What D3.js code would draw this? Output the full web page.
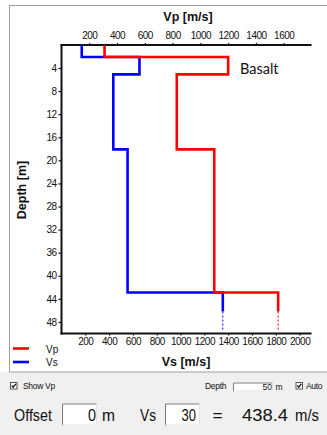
<!DOCTYPE html>
<html>
<head>
<meta charset="utf-8">
<script src="https://cdn.jsdelivr.net/npm/d3@7"></script>
<style>
  html, body { margin: 0; padding: 0; background: #f0f0f0; }
  svg { display: block; }
  text { font-family: "Liberation Sans", Arial, sans-serif; fill: #111; }
</style>
</head>
<body>
<svg id="chart" width="327" height="435"></svg>
<script>
// Layer model: top depth of each layer (m) and its velocities (m/s)
const layerTops = [0, 2.1, 5.1, 18.1, 42.9];
const vpValues  = [310, 1200, 830, 1100, 1560];
const vsValues  = [170, 655, 435, 555, 1355];
const solidEnd  = 46.2;   // depth where the half-space line turns dashed
const dashedEnd = 49.6;

const vpTicks    = [200, 400, 600, 800, 1000, 1200, 1400, 1600];
const vsTicks    = [200, 400, 600, 800, 1000, 1200, 1400, 1600, 1800, 2000];
const depthTicks = [4, 8, 12, 16, 20, 24, 28, 32, 36, 40, 44, 48];

const svg = d3.select("#chart");

// Window areas: white plot panel with grey frame, grey control strip below
svg.append("rect").attr("x", 0).attr("y", 0).attr("width", 327).attr("height", 372).attr("fill", "#ffffff");
svg.append("rect").attr("x", 9.5).attr("y", 5.5).attr("width", 330).attr("height", 366.5)
  .attr("fill", "#ffffff").attr("stroke", "#a0a0a0").attr("stroke-width", 1);

const xVp = d3.scaleLinear().domain([0, 1800]).range([61.5, 311.5]);
const xVs = d3.scaleLinear().domain([0, 2100]).range([61.5, 311.5]);
const y   = d3.scaleLinear().domain([0, 50]).range([44.9, 333.5]);
const fmt = d3.format("d");

// Axes
const axisFont = g => g.selectAll("text")
  .style("font-family", "'Liberation Sans', Arial, sans-serif")
  .style("font-size", "10px").style("letter-spacing", "-0.5px").attr("fill", "#222");

const topAxis = svg.append("g").attr("transform", `translate(0,${y(0)})`)
  .call(d3.axisTop(xVp).tickValues(vpTicks).tickFormat(fmt).tickSizeOuter(0).tickSize(2).tickPadding(4))
  .call(axisFont);
const botAxis = svg.append("g").attr("transform", `translate(0,${y(50)})`)
  .call(d3.axisBottom(xVs).tickValues(vsTicks).tickFormat(fmt).tickSizeOuter(0).tickSize(2).tickPadding(2))
  .call(axisFont);
const leftAxis = svg.append("g").attr("transform", `translate(${xVp(0)},0)`)
  .call(d3.axisLeft(y).tickValues(depthTicks).tickFormat(fmt).tickSizeOuter(0).tickSize(3).tickPadding(2))
  .call(axisFont);
[topAxis, botAxis, leftAxis].forEach(g => {
  g.select(".domain").attr("stroke", "#111").attr("stroke-width", 2);
  g.selectAll(".tick line").attr("stroke", "#111").attr("stroke-width", 1.2);
});
// domain lines stretched to meet at the corners
topAxis.select(".domain").attr("d", `M${xVp(0) - 1},0H${xVp(1800)}`);
botAxis.select(".domain").attr("d", `M${xVs(0) - 1},0H${xVs(2100)}`);
leftAxis.select(".domain").attr("d", `M0,${y(0) - 1}V${y(50) + 1}`);

// Axis titles
svg.append("text").attr("x", 188).attr("y", 21).attr("text-anchor", "middle")
  .style("font-size", "12.5px").style("font-weight", "bold").text("Vp [m/s]");
svg.append("text").attr("x", 186).attr("y", 366).attr("text-anchor", "middle")
  .style("font-size", "12.5px").style("font-weight", "bold").text("Vs [m/s]");
svg.append("text").attr("transform", "translate(26,190) rotate(-90)").attr("text-anchor", "middle")
  .style("font-size", "12.5px").style("font-weight", "bold").text("Depth [m]");

// Step profiles
function profilePoints(values) {
  const pts = [];
  values.forEach((v, i) => {
    const bottom = i < values.length - 1 ? layerTops[i + 1] : solidEnd;
    pts.push([v, layerTops[i]], [v, bottom]);
  });
  return pts;
}
const profiles = [
  { values: vsValues, x: xVs, color: "#0000ff" },
  { values: vpValues, x: xVp, color: "#ff0000" }
];
profiles.forEach(p => {
  const line = d3.line().x(d => p.x(d[0])).y(d => y(d[1]));
  svg.append("path").attr("d", line(profilePoints(p.values)))
    .attr("fill", "none").attr("stroke", p.color).attr("stroke-width", 2.6)
    .attr("stroke-linejoin", "miter");
  const last = p.values[p.values.length - 1];
  svg.append("path").attr("d", line([[last, solidEnd], [last, dashedEnd]]))
    .attr("fill", "none").attr("stroke", p.color).attr("stroke-width", 1)
    .attr("stroke-dasharray", "2,2");
});

// Layer annotation
svg.append("text").attr("x", 240).attr("y", 73.5)
  .style("font-family", "Lato, 'Open Sans', sans-serif").style("font-size", "14.5px")
  .text("Basalt");

// Legend
const legend = [{ name: "Vp", color: "#ff0000", yy: 348.5 }, { name: "Vs", color: "#0000ff", yy: 362 }];
legend.forEach(l => {
  svg.append("line").attr("x1", 13).attr("x2", 29).attr("y1", l.yy).attr("y2", l.yy)
    .attr("stroke", l.color).attr("stroke-width", 2.6);
  svg.append("text").attr("x", 46).attr("y", l.yy + 4).style("font-size", "10px").attr("fill", "#333").text(l.name);
});

// Control strip
function checkbox(x, yy) {
  svg.append("rect").attr("x", x + 0.5).attr("y", yy + 0.5).attr("width", 6.5).attr("height", 6.5)
    .attr("fill", "#fff").attr("stroke", "#555").attr("stroke-width", 1);
  svg.append("path").attr("d", `M${x + 1.8},${yy + 3.6}L${x + 3.2},${yy + 5.2}L${x + 5.8},${yy + 1.8}`)
    .attr("fill", "none").attr("stroke", "#111").attr("stroke-width", 1.3);
}
function inputBox(x, yy, w, h) {
  svg.append("rect").attr("x", x).attr("y", yy).attr("width", w).attr("height", h).attr("fill", "#fff");
  svg.append("path").attr("d", `M${x + 0.5},${yy + h}V${yy + 0.5}H${x + w}`)
    .attr("fill", "none").attr("stroke", "#7a7a7a").attr("stroke-width", 1);
  svg.append("path").attr("d", `M${x + 0.5},${yy + h - 0.5}H${x + w - 0.5}V${yy}`)
    .attr("fill", "none").attr("stroke", "#e3e3e3").attr("stroke-width", 1);
}

checkbox(10, 382);
svg.append("text").attr("x", 23).attr("y", 389).style("font-size", "8.5px").style("letter-spacing", "-0.3px")
  .attr("fill", "#222").text("Show Vp");
svg.append("text").attr("x", 205).attr("y", 389).style("font-size", "8.5px").style("letter-spacing", "-0.3px")
  .attr("fill", "#222").text("Depth");
inputBox(233, 382.5, 40, 9);
svg.append("text").attr("x", 272).attr("y", 389.5).attr("text-anchor", "end").style("font-size", "8.5px")
  .attr("fill", "#777").text("50");
svg.append("text").attr("x", 275.5).attr("y", 389.5).style("font-size", "8.5px").attr("fill", "#222").text("m");
checkbox(295.5, 382);
svg.append("text").attr("x", 306).attr("y", 389).style("font-size", "8.5px").style("letter-spacing", "-0.3px")
  .attr("fill", "#222").text("Auto");

inputBox(62, 403.5, 35, 22);
inputBox(165, 403.5, 35, 22);
const big = [
  { t: "Offset", x: 14, w: 38 },
  { t: "0", x: 88, w: 8 },
  { t: "m", x: 102, w: 13 },
  { t: "Vs", x: 140, w: 16 },
  { t: "30", x: 181.5, w: 14.5 },
  { t: "=", x: 212.5, w: 10 },
  { t: "438.4", x: 242, w: 46 },
  { t: "m/s", x: 295, w: 24 }
];
big.forEach(b => {
  svg.append("text").attr("x", b.x).attr("y", 421).style("font-size", "16.5px")
    .attr("textLength", b.w).attr("lengthAdjust", "spacingAndGlyphs").attr("fill", "#111").text(b.t);
});
</script>
</body>
</html>
